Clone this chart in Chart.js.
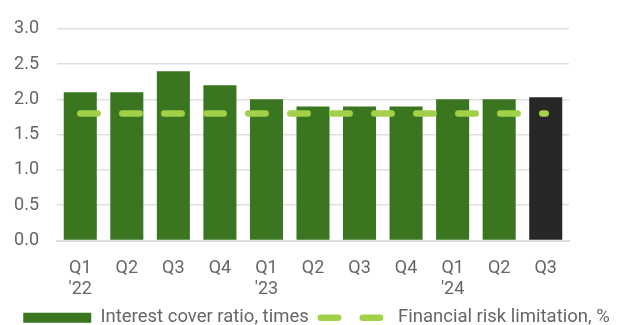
<!DOCTYPE html>
<html>
<head>
<meta charset="utf-8">
<script src="https://cdn.jsdelivr.net/npm/chart.js@4"></script>
<style>
  html, body { margin: 0; padding: 0; background: #fff; }
  #wrap { width: 627px; height: 325px; position: relative; }
</style>
</head>
<body>
<div id="wrap"><canvas id="cover-ratio"></canvas></div>
<script>
const quarters = [
  ["Q1", "'22"], "Q2", "Q3", "Q4",
  ["Q1", "'23"], "Q2", "Q3", "Q4",
  ["Q1", "'24"], "Q2", "Q3"
];
const coverRatio = [2.1, 2.1, 2.4, 2.2, 2.0, 1.9, 1.9, 1.9, 2.0, 2.0, 2.03];
const riskLimit = [1.8, 1.8, 1.8, 1.8, 1.8, 1.8, 1.8, 1.8, 1.8, 1.8, 1.8];
const seriesNames = ["Interest cover ratio, times", "Financial risk limitation, %"];
const yTicks = [0, 0.5, 1, 1.5, 2, 2.5, 3];

const green = "#3a751f";
const dark = "#272727";
const lime = "#a2d149";
const textGrey = "#666666";

const ctxCover = document.getElementById("cover-ratio");

new Chart(ctxCover, {
  type: "bar",
  data: {
    labels: quarters,
    datasets: [
      {
        label: seriesNames[1],
        type: "line",
        data: riskLimit,
        borderColor: lime,
        backgroundColor: lime,
        borderWidth: 6.5,
        borderDash: [17.4, 24.6],
        borderCapStyle: "round",
        pointRadius: 0,
        fill: false,
        order: 0,
      },
      {
        label: seriesNames[0],
        data: coverRatio,
        backgroundColor: (c) => (c.dataIndex === coverRatio.length - 1 ? dark : green),
        barPercentage: 0.71,
        categoryPercentage: 1,
        order: 1,
      },
    ],
  },
  options: {
    responsive: true,
    maintainAspectRatio: false,
    animation: false,
    layout: {
      // legend runs a little past the bottom edge, like the cropped original
      padding: { top: 25, left: 0, right: -6, bottom: -12 },
    },
    scales: {
      x: {
        grid: { display: false, drawTicks: false },
        border: { display: true, color: "#dddddd", width: 2 },
        afterFit: (scale) => {
          scale.height = 56;
        },
        ticks: {
          color: textGrey,
          font: { family: "Roboto", size: 18 },
          padding: 17,
          maxRotation: 0,
          autoSkip: false,
        },
      },
      y: {
        min: 0,
        max: 3,
        afterBuildTicks: (scale) => {
          scale.ticks = yTicks.map((v) => ({ value: v }));
        },
        afterFit: (scale) => {
          scale.width = 57;
        },
        grid: { color: "#e0e0e0", lineWidth: 1.5, drawTicks: false },
        border: { display: false },
        ticks: {
          color: textGrey,
          font: { family: "Roboto", size: 18 },
          padding: 18,
          autoSkip: false,
          callback: (v) => Number(v).toFixed(1),
        },
      },
      yRight: {
        position: "right",
        display: true,
        grid: { display: false, drawTicks: false },
        border: { display: false },
        ticks: { display: false },
        afterFit: (scale) => {
          scale.width = 64;
        },
      },
    },
    plugins: {
      tooltip: { enabled: false },
      legend: {
        position: "bottom",
        labels: {
          usePointStyle: true,
          pointStyleWidth: 68,
          boxHeight: 10,
          padding: 12,
          color: textGrey,
          font: { family: "Roboto", size: 18.5 },
          generateLabels: () => [
            {
              text: seriesNames[0],
              fillStyle: green,
              strokeStyle: green,
              lineWidth: 0,
              pointStyle: "rect",
              datasetIndex: 1,
              fontColor: textGrey,
            },
            {
              text: seriesNames[1],
              fillStyle: lime,
              strokeStyle: lime,
              lineWidth: 6.5,
              lineDash: [17.4, 24.6],
              lineCap: "round",
              pointStyle: "line",
              datasetIndex: 0,
              fontColor: textGrey,
            },
          ],
        },
      },
    },
  },
});
</script>
</body>
</html>
